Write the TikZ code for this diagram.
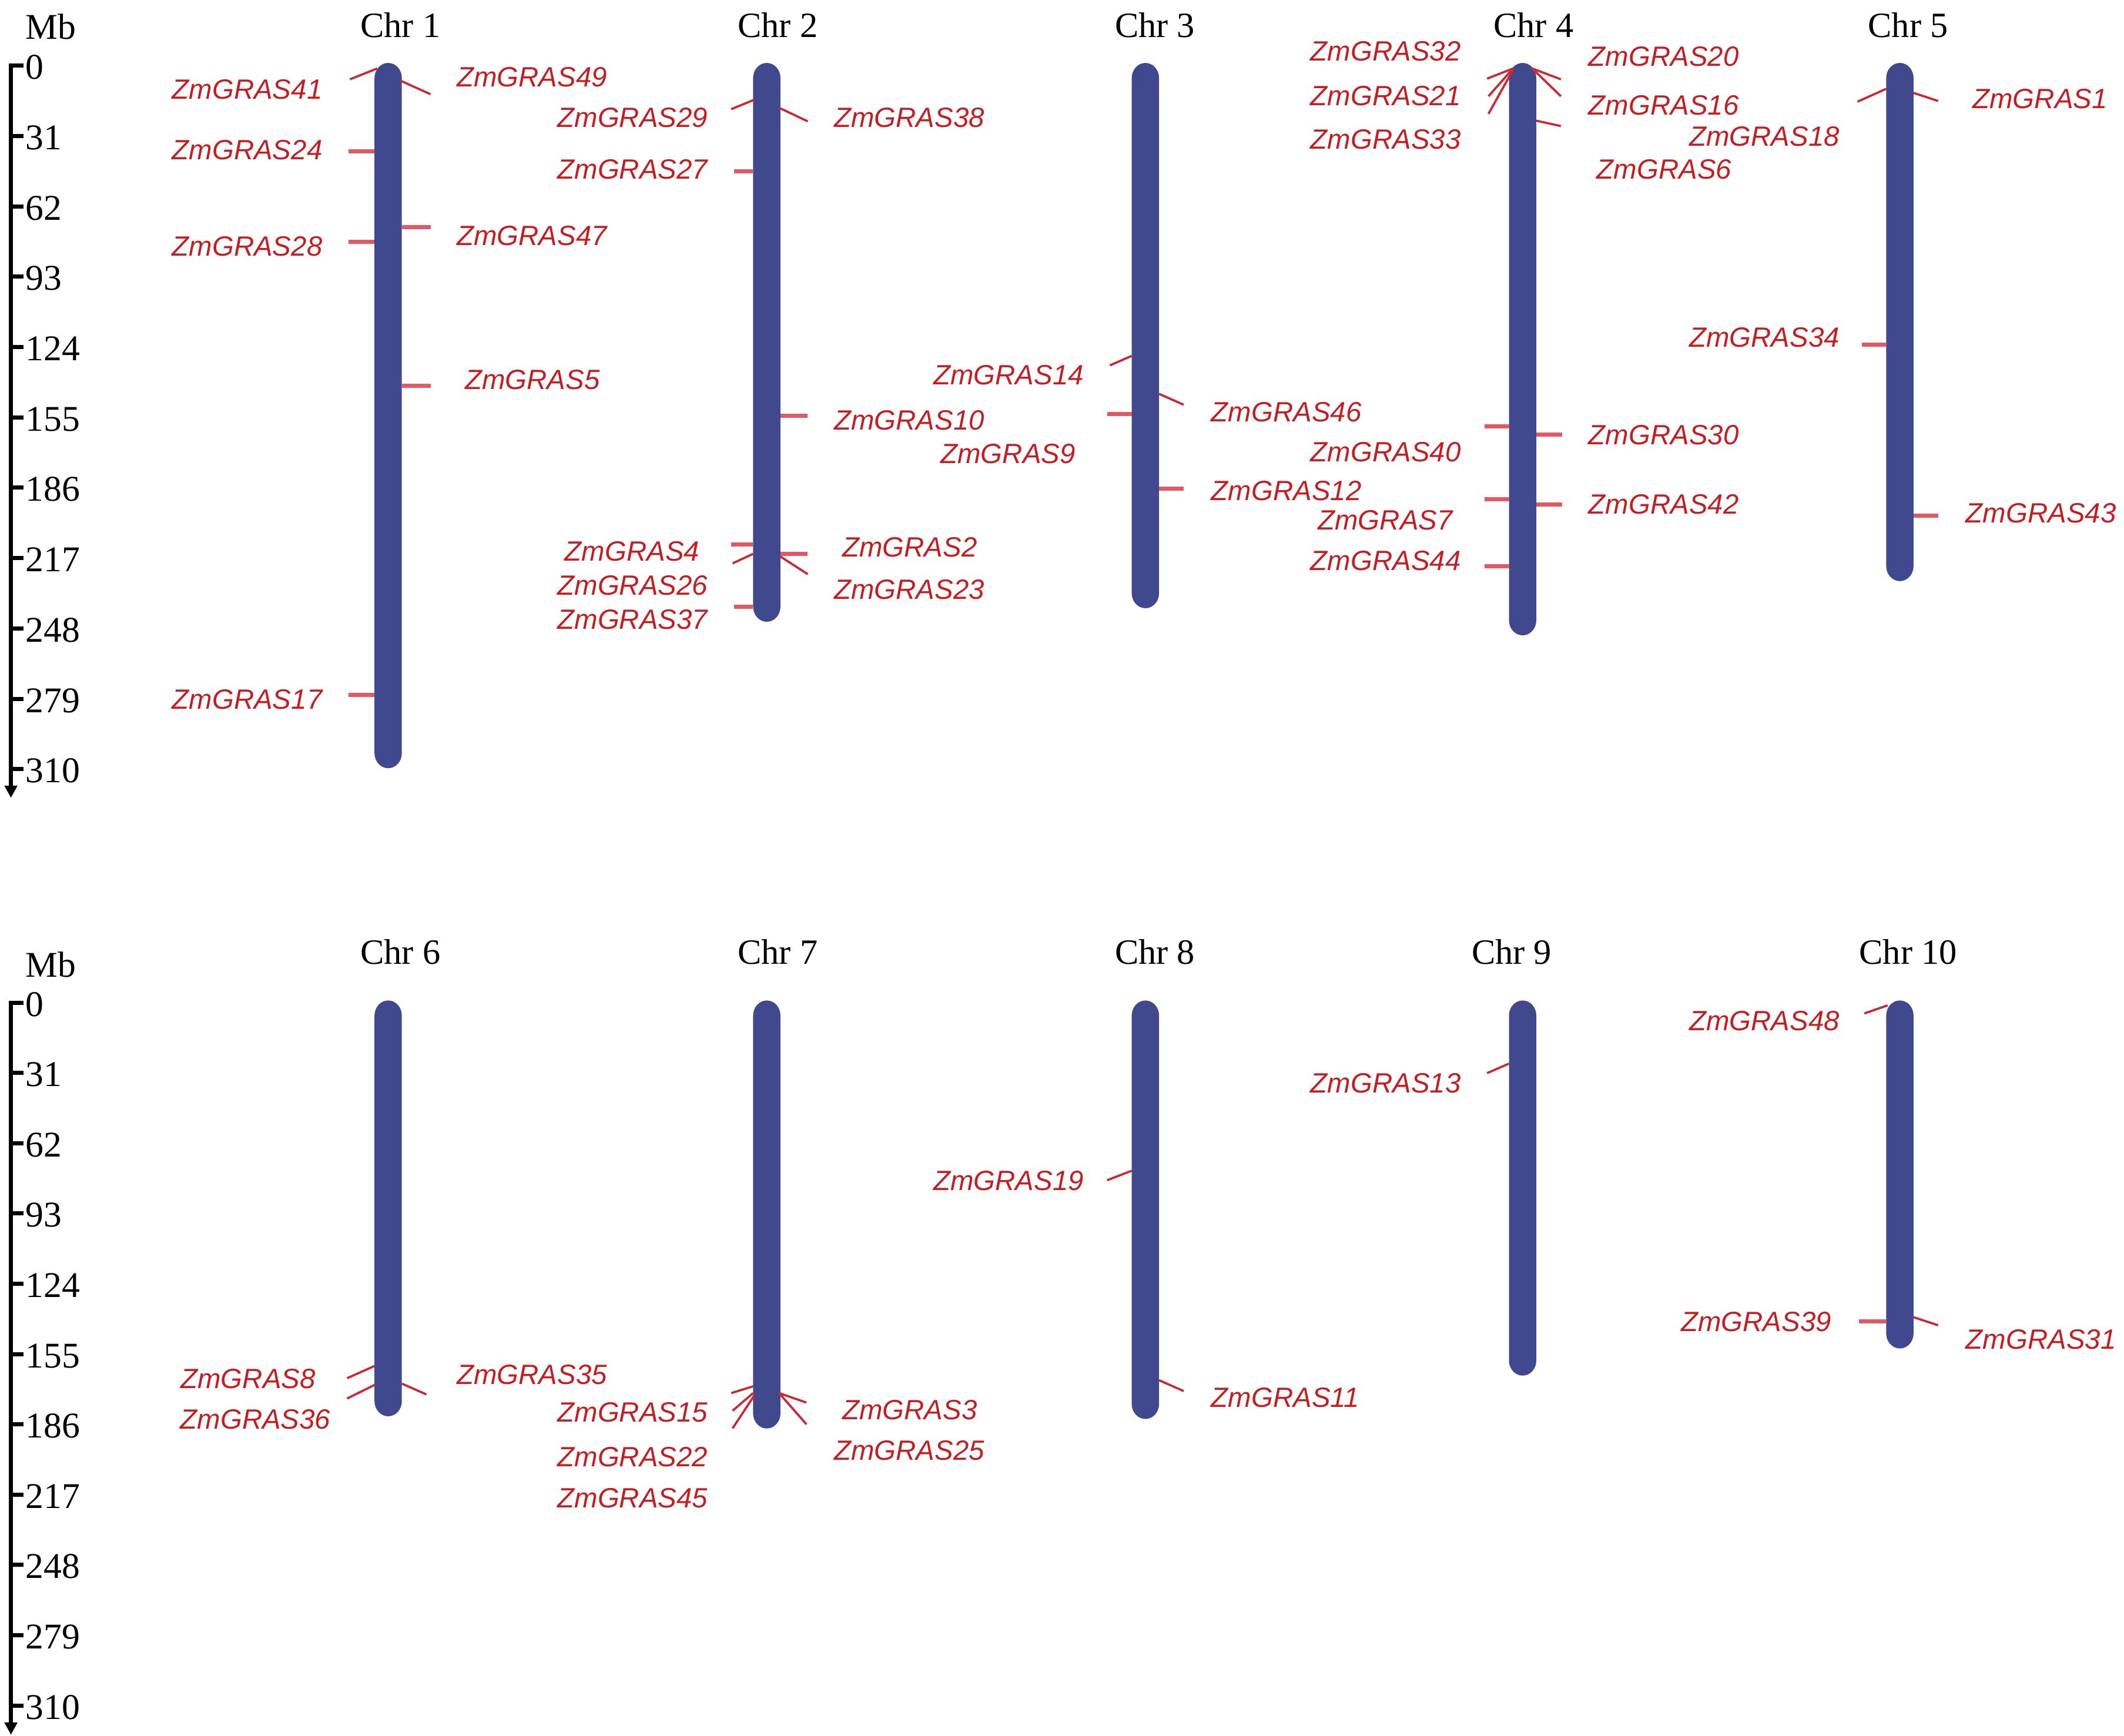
\documentclass[tikz,border=0pt]{standalone}
\usepackage{fontspec}
\setmainfont{Liberation Serif}
\newfontfamily\lblfont{Liberation Sans}
\usetikzlibrary{arrows.meta}
\definecolor{chromfill}{RGB}{64,72,142}
\definecolor{lblred}{RGB}{196,30,34}
\definecolor{tickpink}{RGB}{228,88,100}
\definecolor{slred}{RGB}{205,40,50}
\newcommand\chrombody[3]{%
  \fill[chromo] (#1-10,#2+11) arc[start angle=180,end angle=0,x radius=10pt,y radius=11pt]
    -- (#1+10,#3-11) arc[start angle=0,end angle=-180,x radius=10pt,y radius=11pt] -- cycle;}
\begin{document}
\begin{tikzpicture}[x=1pt,y=-0.992pt,
  lbl/.style={font=\lblfont\itshape\fontsize{20.4}{24}\selectfont, text=lblred, inner sep=0pt, text height=14.6pt, text depth=0pt},
  lblE/.style={lbl, anchor=east},
  lblW/.style={lbl, anchor=west},
  chrlab/.style={font=\fontsize{26}{30}\selectfont, anchor=base, inner sep=0pt},
  numlab/.style={font=\fontsize{26.5}{30}\selectfont, anchor=base west, inner sep=0pt},
  hmark/.style={draw=tickpink, line width=3pt},
  smark/.style={draw=slred, line width=1.6pt},
  chromo/.style={fill=chromfill},
  axisline/.style={line width=3pt, -{Triangle[width=9pt,length=9pt]}},
  axtick/.style={line width=3pt}
]
\useasboundingbox (0,-1.51) rectangle (1554,1278.7);

% ---------- axes ----------
\draw[axisline] (8,45.5) -- (8,587);
\foreach \i in {0,...,10} {
  \pgfmathsetmacro\yy{46.88+51.89*\i}
  \pgfmathtruncatemacro\vv{31*\i}
  \draw[axtick] (7,\yy) -- (17,\yy);
  \node[numlab] (ta\i) at (18.6,\yy+10) {\vv};
}
\node[numlab] (mbtop) at (18.6,27.5) {Mb};

\draw[axisline] (8,736.6) -- (8,1278);
\foreach \i in {0,...,10} {
  \pgfmathsetmacro\yy{738.0+51.84*\i}
  \pgfmathtruncatemacro\vv{31*\i}
  \draw[axtick] (7,\yy) -- (17,\yy);
  \node[numlab] (ba\i) at (18.6,\yy+10) {\vv};
}
\node[numlab] (mbbot) at (18.6,718.9) {Mb};

% ---------- chromosome titles ----------
\node[chrlab] (t1) at (293,26) {Chr 1};
\node[chrlab] (t2) at (569,26) {Chr 2};
\node[chrlab] (t3) at (845,26) {Chr 3};
\node[chrlab] (t4) at (1122,26) {Chr 4};
\node[chrlab] (t5) at (1396,26) {Chr 5};
\node[chrlab] (t6) at (293,709.5) {Chr 6};
\node[chrlab] (t7) at (569,709.5) {Chr 7};
\node[chrlab] (t8) at (845,709.5) {Chr 8};
\node[chrlab] (t9) at (1106,709.5) {Chr 9};
\node[chrlab] (t10) at (1396,709.5) {Chr 10};

% ---------- chromosomes ----------
\chrombody{284}{45}{565}
\chrombody{561}{45}{457}
\chrombody{838}{45}{447}
\chrombody{1114}{45}{467}
\chrombody{1390}{45}{427}
\chrombody{284}{736.5}{1043}
\chrombody{561}{736.5}{1052}
\chrombody{838}{736.5}{1045}
\chrombody{1114}{736.5}{1013}
\chrombody{1390}{736.5}{993}

% ---------- marker lines, top ----------
% Chr 1
\draw[smark] (276,49) -- (256,57);
\draw[smark] (293,58) -- (315,68);
\draw[hmark] (255,110) -- (274,110);
\draw[hmark] (294,166) -- (315,166);
\draw[hmark] (255,177) -- (274,177);
\draw[hmark] (294,283) -- (315,283);
\draw[hmark] (255,511) -- (274,511);
% Chr 2
\draw[smark] (552,72) -- (535,79);
\draw[smark] (570,78) -- (591,88);
\draw[hmark] (537,125) -- (551,125);
\draw[hmark] (571,305) -- (591,305);
\draw[hmark] (535,400) -- (551,400);
\draw[smark] (551,407) -- (536,414);
\draw[hmark] (571,407) -- (591,407);
\draw[smark] (571,409) -- (591,422);
\draw[hmark] (537,446) -- (551,446);
% Chr 3
\draw[smark] (828,261) -- (812,268);
\draw[smark] (848,289) -- (866,297);
\draw[hmark] (810,304) -- (828,304);
\draw[hmark] (848,359) -- (866,359);
% Chr 4
\draw[smark] (1107,49) -- (1088,56.5);
\draw[smark] (1107,49) -- (1089,69.5);
\draw[smark] (1107,50) -- (1089,82.5);
\draw[smark] (1121,49) -- (1142,57);
\draw[smark] (1121,49) -- (1142,69.5);
\draw[smark] (1124,87.5) -- (1142,91.5);
\draw[hmark] (1086,313) -- (1104,313);
\draw[hmark] (1124,319) -- (1143,319);
\draw[hmark] (1086,366.5) -- (1104,366.5);
\draw[hmark] (1124,370.5) -- (1143,370.5);
\draw[hmark] (1086,416) -- (1104,416);
% Chr 5
\draw[smark] (1380,64) -- (1359,73.5);
\draw[smark] (1400,67) -- (1418,73);
\draw[hmark] (1362,252.5) -- (1380,252.5);
\draw[hmark] (1400,379) -- (1418,379);

% ---------- marker lines, bottom ----------
% Chr 6
\draw[smark] (274,1006) -- (254,1015);
\draw[smark] (274,1020) -- (254,1030);
\draw[smark] (294,1019) -- (312,1027);
% Chr 7
\draw[smark] (551,1021) -- (535,1026);
\draw[smark] (551,1026) -- (536,1039);
\draw[smark] (552,1027.5) -- (536,1052);
\draw[smark] (570,1026) -- (590,1033);
\draw[smark] (570,1026) -- (590,1049);
% Chr 8
\draw[smark] (828,862) -- (810,869);
\draw[smark] (848,1016.5) -- (866,1024.5);
% Chr 9
\draw[smark] (1104,783) -- (1088,790);
% Chr 10
\draw[smark] (1381,740) -- (1364,746);
\draw[hmark] (1360,973) -- (1380,973);
\draw[smark] (1400,970) -- (1418,976);

% ---------- labels, top ----------
\node[lblE] (g41) at (236,64) {ZmGRAS41};
\node[lblW] (g49) at (334,55) {ZmGRAS49};
\node[lblE] (g24) at (236,109) {ZmGRAS24};
\node[lblW] (g47) at (334,172) {ZmGRAS47};
\node[lblE] (g28) at (236,180) {ZmGRAS28};
\node[lblW] (g5) at (340,278.5) {ZmGRAS5};
\node[lblE] (g17) at (236,514) {ZmGRAS17};

\node[lblE] (g29) at (518,85) {ZmGRAS29};
\node[lblW] (g38) at (610,85) {ZmGRAS38};
\node[lblE] (g27) at (518,123) {ZmGRAS27};
\node[lblW] (g10) at (610,308) {ZmGRAS10};
\node[lblE] (g4) at (512,405) {ZmGRAS4};
\node[lblE] (g26) at (518,430) {ZmGRAS26};
\node[lblE] (g37) at (518,455) {ZmGRAS37};
\node[lblW] (g2) at (616,402) {ZmGRAS2};
\node[lblW] (g23) at (610,433) {ZmGRAS23};

\node[lblE] (g14) at (793,275) {ZmGRAS14};
\node[lblE] (g9) at (787,333) {ZmGRAS9};
\node[lblW] (g46) at (886,302) {ZmGRAS46};
\node[lblW] (g12) at (886,360) {ZmGRAS12};

\node[lblE] (g32) at (1069,36) {ZmGRAS32};
\node[lblE] (g21) at (1069,69) {ZmGRAS21};
\node[lblE] (g33) at (1069,101) {ZmGRAS33};
\node[lblW] (g20) at (1162,40) {ZmGRAS20};
\node[lblW] (g16) at (1162,76) {ZmGRAS16};
\node[lblE] (g18) at (1346,99) {ZmGRAS18};
\node[lblW] (g6) at (1168,123) {ZmGRAS6};
\node[lblE] (g40) at (1069,331.5) {ZmGRAS40};
\node[lblW] (g30) at (1162,319) {ZmGRAS30};
\node[lblE] (g7) at (1063,382) {ZmGRAS7};
\node[lblW] (g42) at (1162,370) {ZmGRAS42};
\node[lblE] (g44) at (1069,412) {ZmGRAS44};

\node[lblW] (g1) at (1443,71) {ZmGRAS1};
\node[lblE] (g34) at (1346,247) {ZmGRAS34};
\node[lblW] (g43) at (1438,376.5) {ZmGRAS43};

% ---------- labels, bottom ----------
\node[lblE] (g8) at (231,1015) {ZmGRAS8};
\node[lblE] (g36) at (242,1045) {ZmGRAS36};
\node[lblW] (g35) at (334,1012) {ZmGRAS35};

\node[lblE] (g15) at (518,1040) {ZmGRAS15};
\node[lblE] (g22) at (518,1073) {ZmGRAS22};
\node[lblE] (g45) at (518,1103) {ZmGRAS45};
\node[lblW] (g3) at (616,1038) {ZmGRAS3};
\node[lblW] (g25) at (610,1068) {ZmGRAS25};

\node[lblE] (g19) at (793,869) {ZmGRAS19};
\node[lblW] (g11) at (886,1029) {ZmGRAS11};

\node[lblE] (g13) at (1069,797) {ZmGRAS13};

\node[lblE] (g48) at (1346,751) {ZmGRAS48};
\node[lblE] (g39) at (1340,973) {ZmGRAS39};
\node[lblW] (g31) at (1438,986) {ZmGRAS31};
\end{tikzpicture}
\end{document}
